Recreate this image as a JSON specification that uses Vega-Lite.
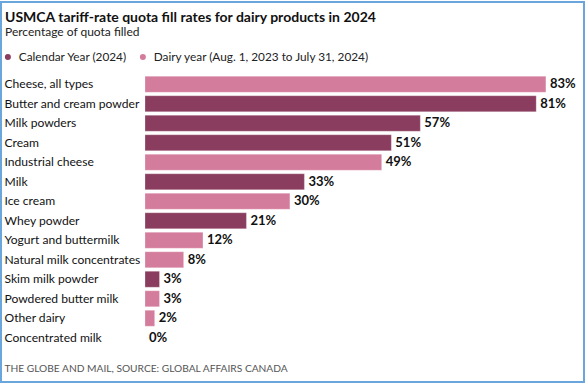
{
  "$schema": "https://vega.github.io/schema/vega-lite/v6.json",
  "autosize": {"type": "none"},
  "width": 583,
  "height": 380,
  "padding": {"left": 1, "top": 2, "right": 2, "bottom": 1},
  "background": "white",
  "config": {
    "view": {"stroke": "#6aa6dc", "strokeWidth": 2},
    "font": "Lato"
  },
  "title": {
    "text": "USMCA tariff-rate quota fill rates for dairy products in 2024",
    "subtitle": "Percentage of quota filled",
    "anchor": "start",
    "frame": "group",
    "offset": -36,
    "dx": 4,
    "font": "Lato",
    "fontSize": 14,
    "fontWeight": "bold",
    "color": "#111111",
    "subtitleFont": "Lato",
    "subtitleFontSize": 12,
    "subtitleColor": "#222222",
    "subtitlePadding": 2
  },
  "data": {
    "values": [
      {"product": "Cheese, all types", "value": 83, "label": "83%", "period": "Dairy year (Aug. 1, 2023 to July 31, 2024)"},
      {"product": "Butter and cream powder", "value": 81, "label": "81%", "period": "Calendar Year (2024)"},
      {"product": "Milk powders", "value": 57, "label": "57%", "period": "Calendar Year (2024)"},
      {"product": "Cream", "value": 51, "label": "51%", "period": "Calendar Year (2024)"},
      {"product": "Industrial cheese", "value": 49, "label": "49%", "period": "Dairy year (Aug. 1, 2023 to July 31, 2024)"},
      {"product": "Milk", "value": 33, "label": "33%", "period": "Calendar Year (2024)"},
      {"product": "Ice cream", "value": 30, "label": "30%", "period": "Dairy year (Aug. 1, 2023 to July 31, 2024)"},
      {"product": "Whey powder", "value": 21, "label": "21%", "period": "Calendar Year (2024)"},
      {"product": "Yogurt and buttermilk", "value": 12, "label": "12%", "period": "Dairy year (Aug. 1, 2023 to July 31, 2024)"},
      {"product": "Natural milk concentrates", "value": 8, "label": "8%", "period": "Dairy year (Aug. 1, 2023 to July 31, 2024)"},
      {"product": "Skim milk powder", "value": 3, "label": "3%", "period": "Calendar Year (2024)"},
      {"product": "Powdered butter milk", "value": 3, "label": "3%", "period": "Dairy year (Aug. 1, 2023 to July 31, 2024)"},
      {"product": "Other dairy", "value": 2, "label": "2%", "period": "Dairy year (Aug. 1, 2023 to July 31, 2024)"},
      {"product": "Concentrated milk", "value": 0, "label": "0%", "period": "Dairy year (Aug. 1, 2023 to July 31, 2024)"}
    ]
  },
  "encoding": {
    "y": {
      "field": "product",
      "type": "nominal",
      "sort": null,
      "scale": {"range": [72.5, 345.5], "paddingInner": 0.18, "paddingOuter": 0.09},
      "axis": {
        "title": null,
        "domain": false,
        "ticks": false,
        "labelAlign": "left",
        "labelPadding": 0,
        "offset": -3,
        "labelFont": "Lato",
        "labelFontSize": 12.1,
        "labelColor": "#111111",
        "labelLimit": 200
      }
    },
    "x": {
      "field": "value",
      "type": "quantitative",
      "scale": {"domain": [0, 100], "range": [144, 627]},
      "axis": {
        "grid": false,
        "domain": false,
        "ticks": false,
        "labels": false,
        "title": "THE GLOBE AND MAIL, SOURCE: GLOBAL AFFAIRS CANADA",
        "titleAnchor": "start",
        "titleAlign": "left",
        "titleX": 3,
        "titleY": -14,
        "titleBaseline": "middle",
        "titleFont": "Lato",
        "titleFontSize": 10.2,
        "titleFontWeight": "normal",
        "titleColor": "#555555"
      }
    }
  },
  "layer": [
    {
      "mark": {"type": "bar", "stroke": "white", "strokeOpacity": 0.5, "strokeWidth": 0.5},
      "encoding": {
        "color": {
          "field": "period",
          "type": "nominal",
          "scale": {
            "domain": ["Calendar Year (2024)", "Dairy year (Aug. 1, 2023 to July 31, 2024)"],
            "range": ["#8a3d5e", "#d47c9c"]
          },
          "legend": {
            "title": null,
            "orient": "none",
            "legendX": 1,
            "legendY": 49,
            "direction": "horizontal",
            "symbolType": "circle",
            "symbolSize": 36,
            "symbolStrokeWidth": 0,
            "labelFont": "Lato",
            "labelFontSize": 11.8,
            "labelColor": "#222222",
            "labelLimit": 400,
            "columnPadding": 9,
            "labelOffset": 5
          }
        }
      }
    },
    {
      "mark": {"type": "text", "align": "left", "baseline": "middle", "dx": 4, "fontWeight": "bold", "fontSize": 13, "font": "Lato", "color": "#111111"},
      "encoding": {"text": {"field": "label"}}
    }
  ]
}
